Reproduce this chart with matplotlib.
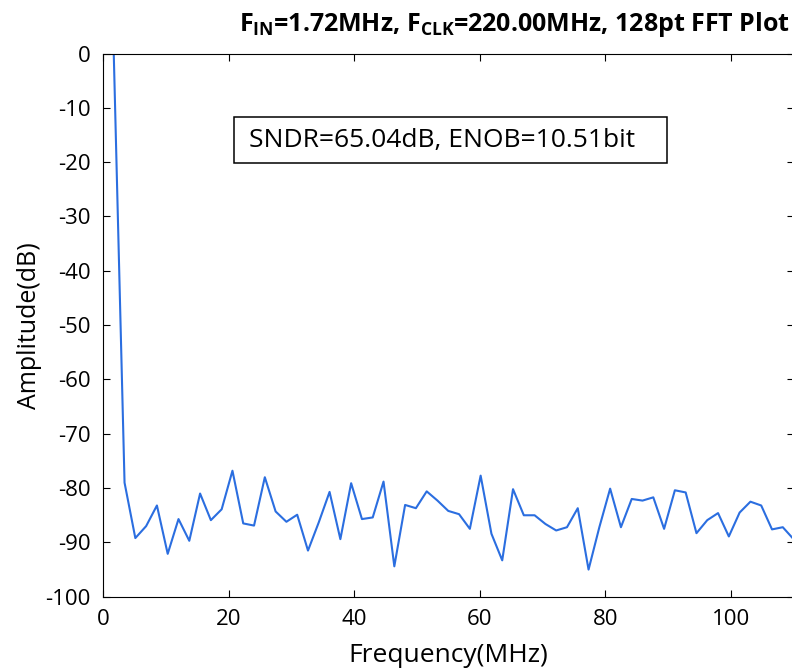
import matplotlib.pyplot as plt
from matplotlib.patches import Rectangle
import numpy as np

plt.rcParams['font.family'] = ['Open Sans', 'DejaVu Sans']
plt.rcParams['mathtext.fontset'] = 'custom'
plt.rcParams['mathtext.rm'] = 'Open Sans'
plt.rcParams['mathtext.bf'] = 'Open Sans:bold'
plt.rcParams['axes.unicode_minus'] = False

f_clk = 220.0
n_fft = 128

# spectrum bins 1..64 (dB)
amp_db = [
    0.0, -79.0, -89.2, -87.0, -83.2, -92.1, -85.7, -89.7, -81.0, -85.9,
    -83.9, -76.8, -86.5, -86.9, -78.0, -84.3, -86.2, -84.9, -91.5, -86.3,
    -80.7, -89.4, -79.1, -85.7, -85.4, -78.8, -94.4, -83.1, -83.7, -80.6,
    -82.3, -84.2, -84.8, -87.5, -77.7, -88.4, -93.3, -80.2, -85.0, -85.0,
    -86.6, -87.8, -87.2, -83.7, -95.0, -87.2, -80.1, -87.2, -82.0, -82.3,
    -81.7, -87.5, -80.4, -80.8, -88.3, -85.9, -84.6, -88.9, -84.5, -82.5,
    -83.2, -87.6, -87.2, -89.4,
]
bins = np.arange(1, len(amp_db) + 1)
freq = bins * f_clk / n_fft

fig = plt.figure(figsize=(7.92, 6.69), dpi=100)
ax = fig.add_axes([0.130, 0.108, 0.872, 0.812])

ax.plot(freq, amp_db, color='#2b6ee0', linewidth=1.5)

ax.set_xlim(0, 110)
ax.set_ylim(-100, 0)
ax.set_xticks([0, 20, 40, 60, 80, 100])
ax.set_yticks(np.arange(-100, 1, 10))
ax.tick_params(direction='in', top=True, right=True, labelsize=16, length=5, width=0.8, pad=9)

ax.set_xlabel('Frequency(MHz)', fontsize=19, labelpad=9)
ax.set_ylabel('Amplitude(dB)', fontsize=18, labelpad=2)
ax.set_title(r'$\mathbf{F_{IN}}$=1.72MHz, $\mathbf{F_{CLK}}$=220.00MHz, 128pt FFT Plot',
             fontsize=18, fontweight='bold', pad=16, x=0.596)

# annotation box
ax.add_patch(Rectangle((20.9, -20.2), 69.0, 8.5, facecolor='white', edgecolor='black',
                       linewidth=1.1, zorder=3))
ax.text(54.0, -16.0, 'SNDR=65.04dB, ENOB=10.51bit', fontsize=19, ha='center', va='center',
        zorder=4)

fig.savefig('out.png', dpi=100)
